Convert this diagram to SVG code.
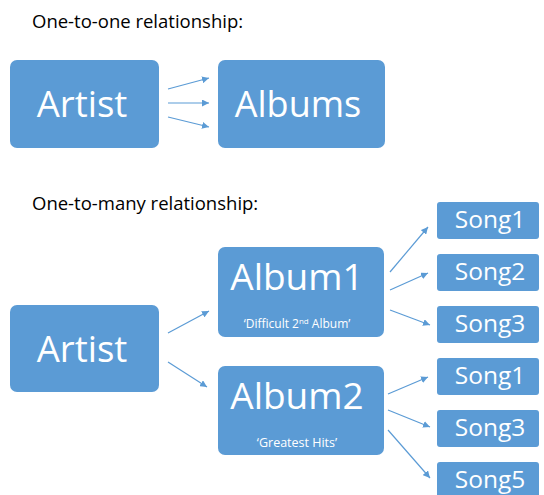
<svg xmlns="http://www.w3.org/2000/svg" width="544" height="495" viewBox="0 0 544 495">
<style>
.box{fill:#5B9BD5;}
.t{font-family:"Open Sans","Liberation Sans",sans-serif;fill:#fff;text-anchor:middle;}
.title{font-family:"Open Sans","Liberation Sans",sans-serif;fill:#000;font-size:18.5px;}
.c line{stroke:#5B9BD5;stroke-width:1.2;marker-end:url(#ah);}
</style>
<defs>
<marker id="ah" viewBox="0 0 10 10" refX="10" refY="5" markerWidth="7" markerHeight="7" markerUnits="userSpaceOnUse" orient="auto">
<path d="M0,0 L10,5 L0,10 z" fill="#5B9BD5"/>
</marker>
</defs>
<rect width="544" height="495" fill="#fff"/>
<text class="title" x="32" y="28">One-to-one relationship:</text>
<text class="title" x="32" y="210">One-to-many relationship:</text>
<g id="artist1"><rect class="box" x="10" y="60" width="149" height="88" rx="7"/><text class="t" x="82" y="117" font-size="36.5">Artist</text></g>
<g id="albums"><rect class="box" x="218" y="60" width="167" height="88" rx="7"/><text class="t" x="298" y="117" font-size="36">Albums</text></g>
<g id="artist2"><rect class="box" x="10" y="305" width="149" height="87" rx="7"/><text class="t" x="82" y="362" font-size="36.5">Artist</text></g>
<g id="album1"><rect class="box" x="218" y="247" width="166" height="90" rx="7"/><text class="t" x="297" y="290" font-size="37">Album1</text><text class="t" x="297" y="328" font-size="12">‘Difficult 2<tspan font-size="8" dy="-4">nd</tspan><tspan dy="4"> Album’</tspan></text></g>
<g id="album2"><rect class="box" x="218" y="366" width="166" height="89" rx="7"/><text class="t" x="297" y="409" font-size="37">Album2</text><text class="t" x="297" y="447" font-size="12.5">‘Greatest Hits’</text></g>
<g id="song1a"><rect class="box" x="437" y="202" width="102" height="37" rx="3"/><text class="t" x="490" y="228" font-size="24.5">Song1</text></g>
<g id="song2a"><rect class="box" x="437" y="254" width="102" height="37" rx="3"/><text class="t" x="490" y="280" font-size="24.5">Song2</text></g>
<g id="song3a"><rect class="box" x="437" y="306" width="102" height="37" rx="3"/><text class="t" x="490" y="332" font-size="24.5">Song3</text></g>
<g id="song1b"><rect class="box" x="437" y="358" width="102" height="37" rx="3"/><text class="t" x="490" y="384" font-size="24.5">Song1</text></g>
<g id="song3b"><rect class="box" x="437" y="410" width="102" height="37" rx="3"/><text class="t" x="490" y="436" font-size="24.5">Song3</text></g>
<g id="song5"><rect class="box" x="437" y="462" width="102" height="40" rx="3"/><text class="t" x="490" y="488" font-size="24.5">Song5</text></g>
<g class="c">
<line x1="168" y1="89" x2="209" y2="78"/>
<line x1="168" y1="103" x2="209" y2="103"/>
<line x1="168" y1="117" x2="209" y2="127"/>
<line x1="168" y1="333" x2="209" y2="311"/>
<line x1="168" y1="362" x2="207" y2="387"/>
<line x1="390" y1="272" x2="428" y2="227"/>
<line x1="390" y1="290" x2="428" y2="273"/>
<line x1="390" y1="310" x2="430" y2="325"/>
<line x1="388" y1="394" x2="428" y2="377"/>
<line x1="388" y1="410" x2="430" y2="427"/>
<line x1="388" y1="430" x2="430" y2="478"/>
</g>
</svg>
